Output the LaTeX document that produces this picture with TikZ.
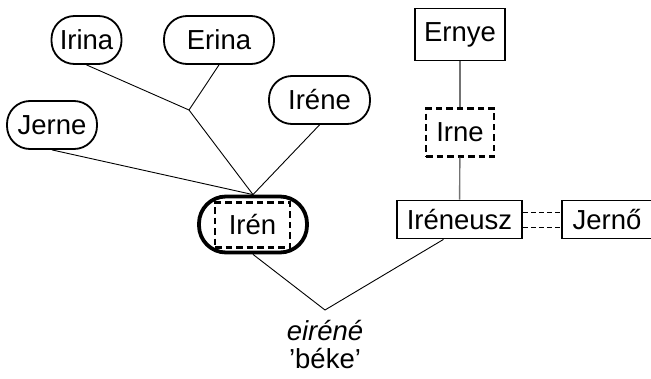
\documentclass[tikz,border=0pt]{standalone}
\usepackage{fontspec}
\setmainfont{Liberation Sans}
\usetikzlibrary{positioning}
\begin{document}
\begin{tikzpicture}[x=1pt, y=-1pt,
    every node/.style={font=\fontsize{27.5}{30}\selectfont, inner sep=0pt},
    oval/.style={rectangle, draw, line width=1.8pt, rounded corners=23pt,
                 minimum height=48pt},
    namebox/.style={rectangle, draw, line width=1.8pt},
    dbox/.style={rectangle, draw, line width=2.4pt, dash pattern=on 6.5pt off 4pt},
    thin/.style={line width=0.9pt},
    grayline/.style={line width=1.4pt, draw=black!55}
]
    \useasboundingbox (0,0) rectangle (651,378);

    % left family
    \node[oval, minimum width=70pt] (irina) at (86.5,40) {Irina};
    \node[oval, minimum width=110pt] (erina) at (219,40) {Erina};
    \node[oval, minimum width=101pt] (irene) at (319.5,100) {Iréne};
    \node[oval, minimum width=90pt] (jerne) at (52,125) {Jerne};
    \node[rectangle, draw, line width=3.8pt, rounded corners=27pt,
          minimum width=108pt, minimum height=56pt] (iren) at (253,224.5) {};
    \node[dbox, minimum width=75pt, minimum height=45pt] (irenin) at (252.5,225) {Irén};
    \coordinate (j) at (189,110);

    \draw[thin] (irina.south) -- (j);
    \draw[thin] (erina.south) -- (j);
    \draw[thin] (j) -- (iren.north);
    \draw[thin] (jerne.south) -- (iren.north);
    \draw[thin] (irene.south) -- (iren.north);

    % right family
    \node[namebox, minimum width=90pt, minimum height=52pt] (ernye) at (460,34.5) {Ernye};
    \node[dbox, minimum width=68pt, minimum height=48pt] (irne) at (460,132.5) {Irne};
    \node[namebox, minimum width=125pt, minimum height=38pt] (ireneusz) at (459.5,219.5) {Iréneusz};
    \node[namebox, minimum width=90pt, minimum height=38pt] (jerno) at (607,219.5) {Jernő};

    \draw[grayline] (ernye) -- (irne);
    \draw[grayline] (irne) -- (ireneusz);
    \draw[thin, dash pattern=on 5pt off 3pt] ([yshift=7.5pt]ireneusz.east) -- ([yshift=7.5pt]jerno.west);
    \draw[thin, dash pattern=on 5pt off 3pt] ([yshift=-7.5pt]ireneusz.east) -- ([yshift=-7.5pt]jerno.west);

    % origin
    \coordinate (root) at (325,310);
    \node (greek) at (325,331) {\textit{eiréné}};
    \node (meaning) at (325,359) {’béke’};
    \draw[thin] (iren.south) -- (root) -- ([xshift=-16pt]ireneusz.south);
\end{tikzpicture}
\end{document}
